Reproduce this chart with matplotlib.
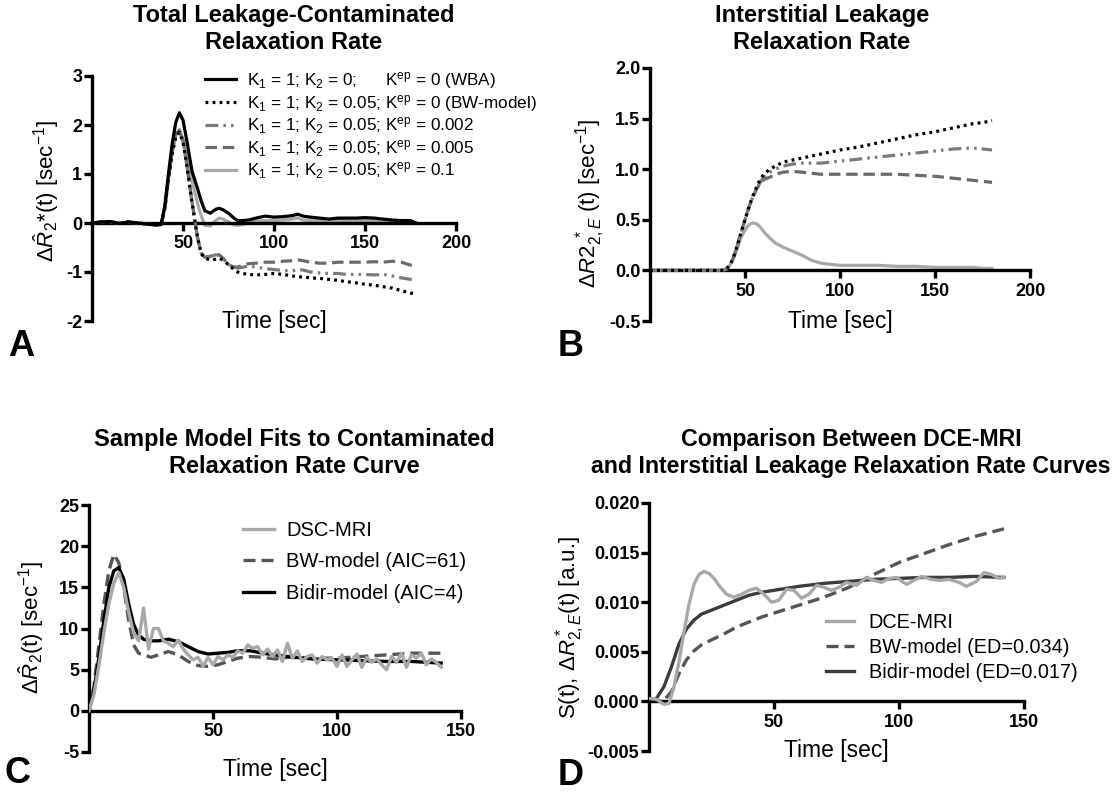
import matplotlib
matplotlib.use("Agg")
import matplotlib.pyplot as plt

plt.rcParams['font.family'] = ['Liberation Sans', 'DejaVu Sans']
plt.rcParams['mathtext.fontset'] = 'custom'
plt.rcParams['mathtext.rm'] = 'Liberation Sans'
plt.rcParams['mathtext.it'] = 'Liberation Sans:italic'
plt.rcParams['mathtext.bf'] = 'Liberation Sans:bold'
plt.rcParams['axes.unicode_minus'] = False

# ---------------- Panel A data ----------------
t_A = [0, 5, 10, 15, 20, 25, 30, 35, 38, 40, 42, 44, 46, 48, 50, 52, 55, 58, 60, 62, 65, 68, 70, 72,
       75, 78, 80, 83, 86, 90, 95, 100, 105, 110, 113, 116, 120, 125, 130, 135, 140, 145, 150, 155,
       160, 165, 170, 175, 178]
A_wba = [0.00, 0.02, 0.03, -0.01, 0.02, 0.00, -0.02, -0.04, -0.03, 0.35, 1.00, 1.60, 2.05, 2.25, 2.10,
         1.70, 1.05, 0.70, 0.45, 0.25, 0.20, 0.28, 0.30, 0.27, 0.20, 0.10, 0.05, 0.05, 0.06, 0.10, 0.14,
         0.12, 0.13, 0.15, 0.18, 0.14, 0.12, 0.10, 0.08, 0.10, 0.10, 0.10, 0.11, 0.10, 0.08, 0.06, 0.05,
         0.05, 0.00]
A_bw = [0.00, 0.02, 0.03, -0.01, 0.02, 0.00, -0.02, -0.04, -0.03, 0.30, 0.90, 1.40, 1.75, 1.85, 1.65,
        1.20, 0.40, -0.30, -0.62, -0.72, -0.75, -0.74, -0.72, -0.76, -0.85, -0.95, -1.00, -1.03, -1.05,
        -1.06, -1.05, -1.03, -1.05, -1.08, -1.10, -1.10, -1.12, -1.13, -1.15, -1.17, -1.20, -1.22,
        -1.25, -1.27, -1.30, -1.33, -1.38, -1.43, -1.45]
A_k002 = [0.00, 0.02, 0.03, -0.01, 0.02, 0.00, -0.02, -0.04, -0.03, 0.30, 0.90, 1.45, 1.80, 1.90, 1.68,
          1.22, 0.42, -0.30, -0.62, -0.70, -0.68, -0.65, -0.66, -0.72, -0.85, -0.90, -0.92, -0.90, -0.88,
          -0.90, -0.93, -0.95, -0.97, -0.98, -0.95, -0.96, -1.00, -1.02, -1.03, -1.03, -1.05, -1.05,
          -1.05, -1.06, -1.05, -1.08, -1.12, -1.15, -1.16]
A_k005 = [0.00, 0.02, 0.03, -0.01, 0.02, 0.00, -0.02, -0.04, -0.03, 0.30, 0.90, 1.45, 1.80, 1.90, 1.68,
          1.22, 0.42, -0.30, -0.62, -0.70, -0.68, -0.64, -0.65, -0.72, -0.85, -0.90, -0.90, -0.86, -0.83,
          -0.82, -0.80, -0.80, -0.78, -0.77, -0.75, -0.77, -0.80, -0.82, -0.82, -0.80, -0.80, -0.80,
          -0.80, -0.79, -0.80, -0.78, -0.80, -0.86, -0.83]
A_k01 = [0.00, 0.02, 0.03, -0.01, 0.02, 0.00, -0.02, -0.04, -0.03, 0.30, 0.90, 1.45, 1.80, 1.90, 1.70,
         1.35, 0.85, 0.40, 0.15, -0.05, -0.06, 0.05, 0.10, 0.08, 0.02, -0.04, -0.05, -0.03, 0.00, 0.04,
         0.05, 0.05, 0.06, 0.08, 0.10, 0.06, 0.05, 0.05, 0.04, 0.05, 0.05, 0.05, 0.05, 0.05, 0.04, 0.03,
         0.03, 0.02, 0.00]

# ---------------- Panel B data ----------------
t_B = [0, 10, 20, 30, 38, 40, 42, 44, 46, 48, 50, 52, 54, 56, 58, 60, 63, 66, 70, 75, 80, 85, 90, 95,
       100, 110, 120, 130, 140, 150, 160, 170, 175, 180]
B_bw = [0, 0, 0, 0, 0, 0.01, 0.05, 0.13, 0.25, 0.38, 0.50, 0.62, 0.73, 0.82, 0.90, 0.95, 1.00, 1.03,
        1.07, 1.09, 1.11, 1.13, 1.15, 1.17, 1.19, 1.22, 1.26, 1.30, 1.34, 1.37, 1.41, 1.45, 1.46, 1.48]
B_k002 = [0, 0, 0, 0, 0, 0.01, 0.05, 0.13, 0.25, 0.38, 0.50, 0.62, 0.72, 0.80, 0.87, 0.92, 0.97, 1.00,
          1.03, 1.05, 1.06, 1.06, 1.06, 1.07, 1.08, 1.10, 1.12, 1.14, 1.16, 1.18, 1.20, 1.21, 1.20, 1.19]
B_k005 = [0, 0, 0, 0, 0, 0.01, 0.05, 0.13, 0.25, 0.38, 0.50, 0.62, 0.72, 0.80, 0.86, 0.90, 0.92, 0.95,
          0.97, 0.98, 0.97, 0.96, 0.95, 0.95, 0.95, 0.95, 0.95, 0.95, 0.94, 0.93, 0.91, 0.89, 0.88, 0.87]
B_k01 = [0, 0, 0, 0, 0, 0.01, 0.05, 0.12, 0.22, 0.33, 0.40, 0.45, 0.47, 0.46, 0.43, 0.38, 0.32, 0.27,
         0.23, 0.19, 0.15, 0.10, 0.07, 0.06, 0.05, 0.05, 0.05, 0.04, 0.04, 0.03, 0.03, 0.03, 0.02, 0.02]

# ---------------- Panel C data ----------------
t_C_dsc = list(range(0, 143, 2))
C_dsc = [0, 2, 5.5, 9.5, 13, 15.5, 16.8, 15, 12, 9.5, 8.5, 12.5, 7.5, 10, 10, 8.5, 8.2, 7.8, 8.6, 7.5,
         6.8, 6.2, 6.5, 5.4, 6.5, 5.6, 6.6, 6.2, 6.8, 6.5, 7.3, 7.0, 8.0, 7.6, 7.8, 6.8, 7.5, 6.6, 7.4,
         6.0, 8.2, 6.4, 7.3, 6.0, 6.6, 6.8, 5.8, 6.6, 6.2, 6.4, 5.4, 6.8, 5.4, 6.2, 6.9, 5.3, 6.5, 5.9,
         6.3, 5.6, 5.0, 6.6, 5.9, 7.0, 5.3, 6.8, 6.4, 7.0, 5.6, 6.3, 5.9, 5.3]
t_C = [0, 2, 4, 6, 8, 10, 12, 14, 16, 18, 20, 22, 25, 28, 32, 36, 40, 44, 48, 52, 56, 60, 65, 70, 75,
       80, 90, 100, 110, 120, 130, 142]
C_bw = [0, 3, 8, 13, 17, 19, 18, 15, 11, 8, 7, 6.8, 6.5, 6.8, 7.2, 6.8, 6.0, 5.5, 5.4, 5.6, 6.0, 6.4,
        6.6, 6.5, 6.3, 6.5, 6.4, 6.4, 6.6, 6.8, 7.0, 7.0]
C_bidir = [0, 2.5, 6.5, 11, 15, 17, 17.4, 16, 13, 10.5, 9.2, 8.7, 8.5, 8.5, 8.7, 8.4, 7.8, 7.2, 6.9,
           7.0, 7.1, 7.3, 7.3, 7.0, 6.8, 6.6, 6.3, 6.2, 6.1, 6.0, 6.0, 5.8]

# ---------------- Panel D data ----------------
t_D_dce = [0, 3, 6, 8, 10, 12, 14, 16, 18, 20, 22, 24, 26, 28, 31, 34, 37, 40, 43, 46, 49, 52, 55, 58,
           61, 64, 67, 70, 73, 76, 79, 83, 87, 90, 93, 96, 99, 103, 106, 109, 113, 116, 120, 124, 127,
           131, 134, 137, 140, 142]
D_dce = [0.0003, 0.0002, -0.0003, -0.0002, 0.0015, 0.004, 0.007, 0.0098, 0.0118, 0.0128, 0.0131,
         0.0129, 0.0124, 0.0117, 0.0108, 0.0105, 0.0108, 0.0112, 0.0114, 0.0108, 0.0100, 0.0102,
         0.0113, 0.0112, 0.0104, 0.0108, 0.0117, 0.0115, 0.0112, 0.0115, 0.0120, 0.0117, 0.0125,
         0.0122, 0.0120, 0.0124, 0.0125, 0.0118, 0.0122, 0.0126, 0.0123, 0.0122, 0.0123, 0.0120,
         0.0116, 0.0121, 0.0130, 0.0128, 0.0124, 0.0125]
t_D = [0, 3, 6, 9, 12, 15, 18, 21, 25, 30, 35, 40, 45, 50, 55, 60, 70, 80, 90, 100, 110, 120, 130, 142]
D_bw = [0, 0, 0.0001, 0.001, 0.0028, 0.0042, 0.0051, 0.0057, 0.0062, 0.0068, 0.0075, 0.0080, 0.0085,
        0.0089, 0.0093, 0.0097, 0.0105, 0.0115, 0.0128, 0.0140, 0.0149, 0.0158, 0.0166, 0.0174]
D_bidir = [0, 0.0003, 0.0015, 0.0035, 0.0058, 0.0073, 0.0082, 0.0088, 0.0092, 0.0097, 0.0102, 0.0107,
           0.0110, 0.0112, 0.0114, 0.0116, 0.0119, 0.0121, 0.0123, 0.0124, 0.0125, 0.0125, 0.0126,
           0.0125]

legend_A = [r'K$_1$ = 1; K$_2$ = 0;      K$^{\mathrm{ep}}$ = 0 (WBA)',
            r'K$_1$ = 1; K$_2$ = 0.05; K$^{\mathrm{ep}}$ = 0 (BW-model)',
            r'K$_1$ = 1; K$_2$ = 0.05; K$^{\mathrm{ep}}$ = 0.002',
            r'K$_1$ = 1; K$_2$ = 0.05; K$^{\mathrm{ep}}$ = 0.005',
            r'K$_1$ = 1; K$_2$ = 0.05; K$^{\mathrm{ep}}$ = 0.1']
legend_C = ['DSC-MRI', 'BW-model (AIC=61)', 'Bidir-model (AIC=4)']
legend_D = ['DCE-MRI', 'BW-model (ED=0.034)', 'Bidir-model (ED=0.017)']

W, H = 1118, 792
fig = plt.figure(figsize=(W / 100, H / 100), dpi=100)


def px_axes(l, t, r, b):
    return fig.add_axes([l / W, 1 - b / H, (r - l) / W, (b - t) / H])


def style(ax, xlim, ylim, xticks, yticks, ylabels):
    ax.set_xlim(xlim)
    ax.set_ylim(ylim)
    for s in ('top', 'right'):
        ax.spines[s].set_visible(False)
    ax.spines['bottom'].set_position(('data', 0))
    for s in ('left', 'bottom'):
        ax.spines[s].set_linewidth(2.4)
    ax.set_xticks(xticks)
    ax.set_xticklabels([str(v) for v in xticks], fontweight='bold', fontsize=13)
    ax.set_yticks(yticks)
    ax.set_yticklabels(ylabels, fontweight='bold', fontsize=13)
    ax.tick_params(axis='y', direction='out', width=2.4, length=6, pad=1)
    ax.tick_params(axis='x', direction='out', width=2.4, length=6, pad=3)
    ax.patch.set_alpha(0)


LW = 2.3
c_k002 = '#7a7a7a'
c_k005 = '#6a6a6a'
c_light = '#a8a8a8'
dashdotdot = (0, (4, 1.6, 0.8, 1.6, 0.8, 1.6))
dashed = (0, (3.6, 1.8))
dotted = (0, (0.9, 1.3))
XL = 16.5

# ---------------- Panel A ----------------
axA = px_axes(92, 76, 456, 321)
axA.plot(t_A, A_k01, color=c_light, lw=LW, label=legend_A[4], zorder=2)
axA.plot(t_A, A_k005, color=c_k005, lw=LW, ls=dashed, label=legend_A[3], zorder=3)
axA.plot(t_A, A_k002, color=c_k002, lw=LW, ls=dashdotdot, label=legend_A[2], zorder=3)
axA.plot(t_A, A_bw, color='black', lw=LW, ls=dotted, label=legend_A[1], zorder=4)
axA.plot(t_A, A_wba, color='black', lw=LW, label=legend_A[0], zorder=5)
style(axA, (0, 200), (-2, 3), [50, 100, 150, 200], [-2, -1, 0, 1, 2, 3],
      ['-2', '-1', '0', '1', '2', '3'])
h, l = axA.get_legend_handles_labels()
order = [4, 3, 2, 1, 0]
axA.legend([h[i] for i in order], [l[i] for i in order], loc='upper left',
           bbox_to_anchor=(205 / W, 1 - 70 / H), bbox_transform=fig.transFigure,
           frameon=False, fontsize=12.3, handlelength=1.8, handletextpad=0.65,
           labelspacing=0.1, borderpad=0, borderaxespad=0)
axA.set_xlabel('Time [sec]', fontsize=XL)
axA.xaxis.set_label_coords(0.5, 0.045)

# ---------------- Panel B ----------------
axB = px_axes(650, 68, 1030, 321)
axB.plot(t_B, B_k01, color=c_light, lw=LW, zorder=2)
axB.plot(t_B, B_k005, color=c_k005, lw=LW, ls=dashed, zorder=3)
axB.plot(t_B, B_k002, color=c_k002, lw=LW, ls=dashdotdot, zorder=3)
axB.plot(t_B, B_bw, color='black', lw=LW, ls=dotted, zorder=4)
style(axB, (0, 200), (-0.5, 2.0), [50, 100, 150, 200], [-0.5, 0, 0.5, 1.0, 1.5, 2.0],
      ['-0.5', '0.0', '0.5', '1.0', '1.5', '2.0'])
axB.set_xlabel('Time [sec]', fontsize=XL)
axB.xaxis.set_label_coords(0.5, 0.045)

# ---------------- Panel C ----------------
axC = px_axes(89, 505, 461, 752)
axC.plot(t_C_dsc, C_dsc, color=c_light, lw=2.4, label=legend_C[0], zorder=3)
axC.plot(t_C, C_bw, color='#555555', lw=2.4, ls=dashed, label=legend_C[1], zorder=2)
axC.plot(t_C, C_bidir, color='black', lw=2.4, label=legend_C[2], zorder=2)
style(axC, (0, 150), (-5, 25), [50, 100, 150], [-5, 0, 5, 10, 15, 20, 25],
      ['-5', '0', '5', '10', '15', '20', '25'])
axC.legend(loc='upper left', bbox_to_anchor=(243 / W, 1 - 521 / H), bbox_transform=fig.transFigure,
           frameon=False, fontsize=14.5, handlelength=1.55, handletextpad=0.6,
           labelspacing=0.62, borderpad=0, borderaxespad=0)
axC.set_xlabel('Time [sec]', fontsize=XL)
axC.xaxis.set_label_coords(0.5, -0.025)

# ---------------- Panel D ----------------
axD = px_axes(649, 503, 1024, 751)
axD.plot(t_D_dce, D_dce, color=c_light, lw=2.4, label=legend_D[0], zorder=3)
axD.plot(t_D, D_bw, color='#555555', lw=2.4, ls=dashed, label=legend_D[1], zorder=2)
axD.plot(t_D, D_bidir, color='#3c3c3c', lw=2.4, label=legend_D[2], zorder=2)
style(axD, (0, 150), (-0.005, 0.020), [50, 100, 150],
      [-0.005, 0.0, 0.005, 0.010, 0.015, 0.020],
      ['-0.005', '0.000', '0.005', '0.010', '0.015', '0.020'])
axD.legend(loc='upper left', bbox_to_anchor=(826 / W, 1 - 613 / H), bbox_transform=fig.transFigure,
           frameon=False, fontsize=14.3, handlelength=1.4, handletextpad=0.75,
           labelspacing=0.3, borderpad=0, borderaxespad=0)
axD.set_xlabel('Time [sec]', fontsize=XL)
axD.xaxis.set_label_coords(0.5, 0.05)

# ---------------- Titles ----------------
tkw = dict(ha='center', va='top', fontweight='bold', linespacing=1.2)
fig.text(294 / W, 1 - 4 / H, 'Total Leakage-Contaminated\nRelaxation Rate', fontsize=17, **tkw)
fig.text(822 / W, 1 - 4 / H, 'Interstitial Leakage\nRelaxation Rate', fontsize=17, **tkw)
fig.text(294 / W, 1 - 428 / H, 'Sample Model Fits to Contaminated\nRelaxation Rate Curve',
         fontsize=17, **tkw)
fig.text(851 / W, 1 - 428 / H,
         'Comparison Between DCE-MRI\nand Interstitial Leakage Relaxation Rate Curves',
         fontsize=16.7, **tkw)

# ---------------- Y labels ----------------
ykw = dict(rotation=90, ha='center', va='center', fontsize=16)
fig.text(46 / W, 1 - 191 / H, r'$\Delta\hat{R}_2$*(t) [sec$^{-1}$]', **ykw)
fig.text(590 / W, 1 - 203 / H, r'$\Delta R2^{\ *}_{2,E}$ (t) [sec$^{-1}$]', **ykw)
fig.text(31 / W, 1 - 627 / H, r'$\Delta\hat{R}_2$(t) [sec$^{-1}$]', **ykw)
fig.text(570 / W, 1 - 628 / H, r'S(t), $\Delta R^*_{2,E}$(t) [a.u.]', **ykw)

# ---------------- Panel letters ----------------
lkw = dict(ha='left', va='baseline', fontsize=26, fontweight='bold')
fig.text(8 / W, 1 - 356 / H, 'A', **lkw)
fig.text(558 / W, 1 - 356 / H, 'B', **lkw)
fig.text(5 / W, 1 - 783 / H, 'C', **lkw)
fig.text(558 / W, 1 - 785 / H, 'D', **lkw)

fig.savefig('out.png', dpi=100)
